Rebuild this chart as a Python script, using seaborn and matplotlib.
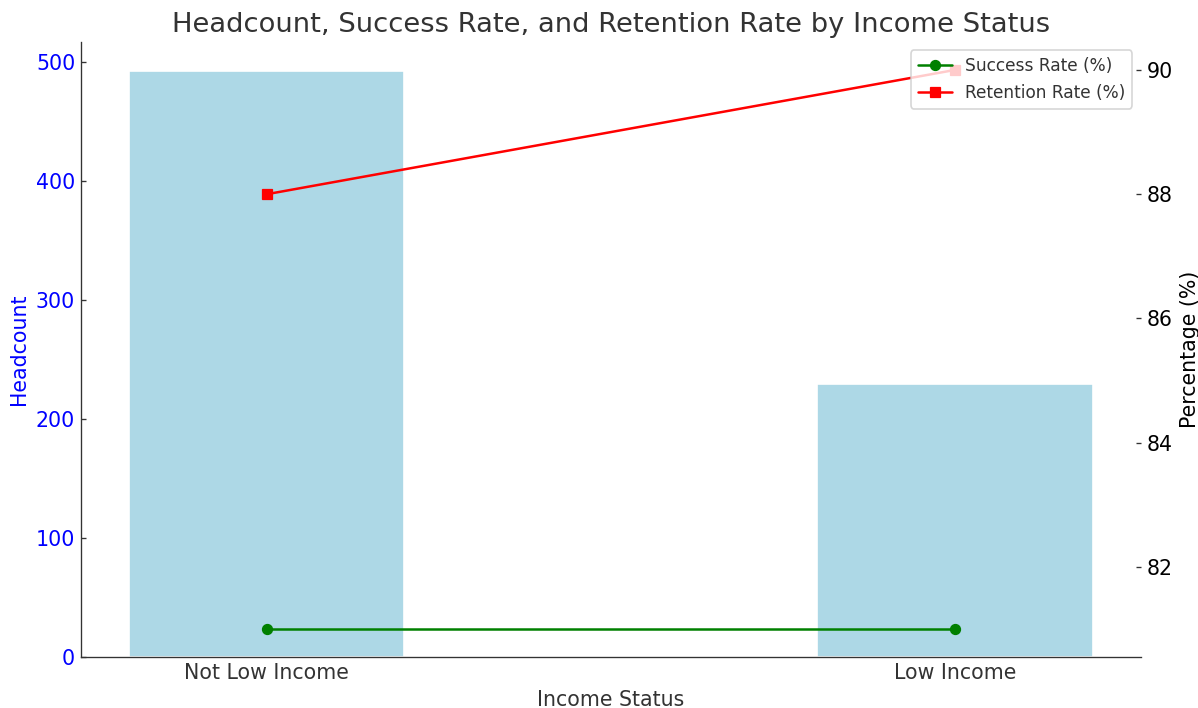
import seaborn as sns
import matplotlib.pyplot as plt

# data
income_status = ["Not Low Income", "Low Income"]
headcount = [492, 229]
success_rate = [81, 81]
retention_rate = [88, 90]

sns.set_style("white")
plt.rcParams["text.color"] = "#333333"
plt.rcParams["axes.labelcolor"] = "#333333"
plt.rcParams["axes.edgecolor"] = "#333333"
plt.rcParams["xtick.color"] = "#333333"
plt.rcParams["ytick.color"] = "#333333"

fig, ax1 = plt.subplots(figsize=(9.99, 5.9), dpi=120)
fig.subplots_adjust(left=0.0676, right=0.9516, top=0.9407, bottom=0.072)

# bars: headcount on the left axis
sns.barplot(x=income_status, y=headcount, color="lightblue", saturation=1,
            width=0.4, ax=ax1)
ax1.set_xlim(-0.27, 1.27)
ax1.set_xlabel("Income Status", fontsize=12.3)
ax1.set_ylabel("Headcount", color="blue", fontsize=12.3)
ax1.tick_params(axis="y", labelcolor="blue", labelsize=12.3, left=True,
                direction="in", length=3)
ax1.tick_params(axis="x", labelsize=12.3, bottom=True, direction="in", length=3)
ax1.spines["top"].set_visible(False)
ax1.spines["right"].set_visible(False)

# lines: rates on the right axis
ax2 = ax1.twinx()
sns.lineplot(x=income_status, y=success_rate, color="green", marker="o",
             markeredgecolor="green", label="Success Rate (%)", sort=False, ax=ax2)
sns.lineplot(x=income_status, y=retention_rate, color="red", marker="s",
             markeredgecolor="red", label="Retention Rate (%)", sort=False, ax=ax2)
ax2.set_ylabel("Percentage (%)", color="black", fontsize=12.3)
ax2.tick_params(axis="y", labelcolor="black", labelsize=12.3, right=True,
                direction="in", length=3)
for s in ["top", "right", "left", "bottom"]:
    ax2.spines[s].set_visible(False)
ax2.legend(loc="upper right", fontsize=10.2)

ax1.set_title("Headcount, Success Rate, and Retention Rate by Income Status",
              fontsize=16.4)

plt.savefig("out.png", dpi=120)
